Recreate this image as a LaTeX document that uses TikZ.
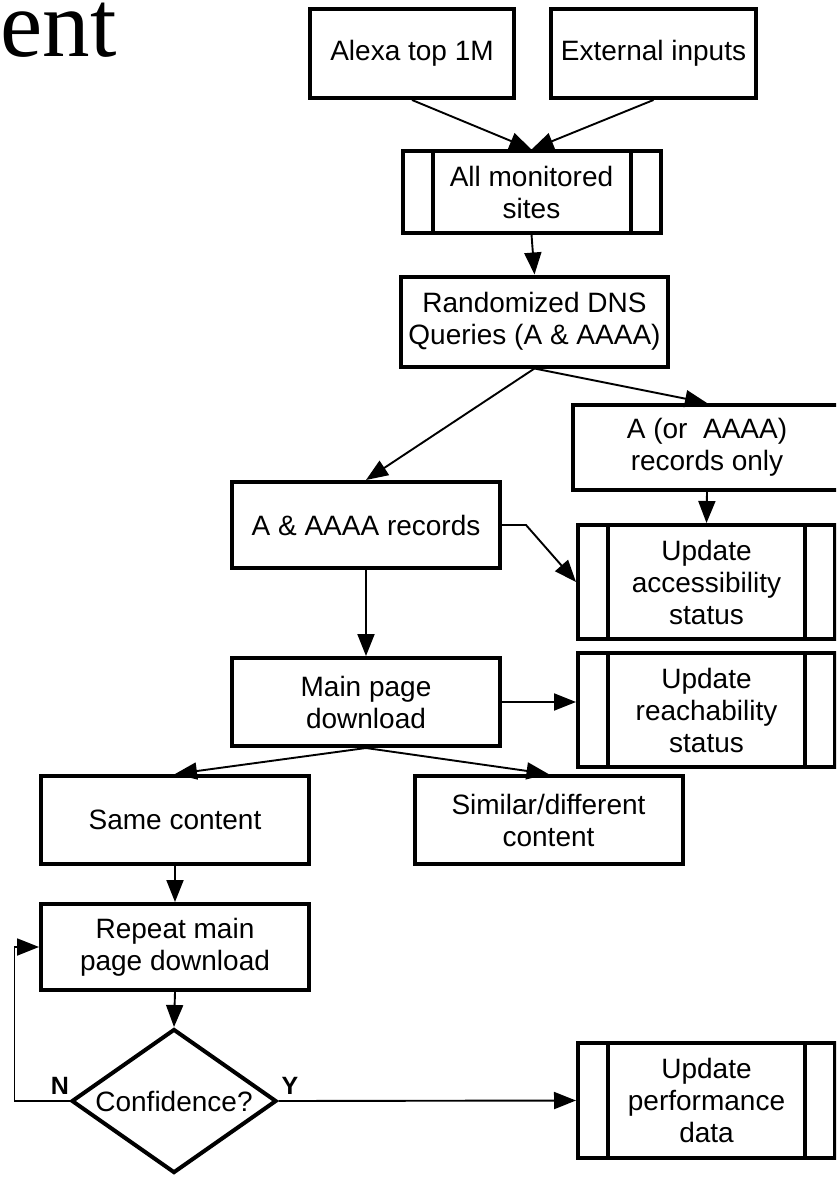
\documentclass[tikz,border=0pt]{standalone}
\usepackage{fontspec}
\setmainfont{Liberation Sans}
\newfontfamily\titlefont{Liberation Serif}
\usetikzlibrary{positioning, arrows.meta, shapes.geometric}
\definecolor{LineColor}{RGB}{0,0,0}
\tikzstyle{arrow} = [line width=1.9pt, LineColor, -{Triangle[length=22pt,width=17pt]}]
\tikzset{
  process/.style={rectangle, draw=LineColor, line width=4pt, fill=white, align=center, inner sep=0pt, font=\fontsize{28}{32}\selectfont},
  subprocess/.style={process, path picture={
      \draw[LineColor, line width=4pt] ([xshift=30pt]path picture bounding box.north west) -- ([xshift=30pt]path picture bounding box.south west);
      \draw[LineColor, line width=4pt] ([xshift=-30pt]path picture bounding box.north east) -- ([xshift=-30pt]path picture bounding box.south east);}},
  decision/.style={diamond, draw=LineColor, line width=4pt, aspect=1.42, minimum width=205pt, minimum height=144pt, inner sep=0pt, font=\fontsize{28}{32}\selectfont},
  flag/.style={inner sep=0pt, font=\bfseries\fontsize{25}{25}\selectfont}
}

\begin{document}
\begin{tikzpicture}[x=1pt, y=-1pt]
  \useasboundingbox (0,0) rectangle (836,1177);
  \clip (0,0) rectangle (836,1177);

  % Title fragment
  \node[anchor=base east, inner sep=0pt, font=\titlefont\fontsize{95}{95}\selectfont] (title) at (117,57) {ent};

  % Inputs
  \node[process, minimum width=204pt, minimum height=89pt] (alexa) at (412,53.5) {Alexa top 1M};
  \node[process, minimum width=205pt, minimum height=89pt] (external) at (653.5,53.5) {External inputs};
  \node[subprocess, minimum width=258pt, minimum height=81pt] (monitored) at (531.5,192) {All monitored\\sites};
  \node[process, minimum width=267pt, minimum height=90pt] (dns) at (534.5,321.5) {Randomized DNS\\Queries (A \& AAAA)};

  % DNS outcome
  \node[process, minimum width=268pt, minimum height=85pt] (aonly) at (707,447.5) {A (or~~AAAA)\\records only};
  \node[process, minimum width=268pt, minimum height=86pt] (both) at (366,525) {A \& AAAA records};
  \node[subprocess, minimum width=257pt, minimum height=114pt] (access) at (706.5,582) {Update\\accessibility\\status};

  % Download
  \node[process, minimum width=268pt, minimum height=88pt] (main) at (366,702) {Main page\\download};
  \node[subprocess, minimum width=257pt, minimum height=114pt] (reach) at (706.5,710) {Update\\reachability\\status};
  \node[process, minimum width=268pt, minimum height=88pt] (same) at (175,820) {Same content};
  \node[process, minimum width=268pt, minimum height=88pt] (similar) at (548.5,820) {Similar/different\\content};

  % Repeat loop
  \node[process, minimum width=268pt, minimum height=86pt] (repeat) at (175,947) {Repeat main\\page download};
  \node[decision] (conf) at (174,1101) {Confidence?};
  \node[subprocess, minimum width=257pt, minimum height=115pt] (perf) at (706.5,1100.5) {Update\\performance\\data};
  \node[flag] (no) at (60,1086) {N};
  \node[flag] (yes) at (290,1086) {Y};

  % Connectors
  \draw[arrow] (alexa.south) -- (monitored.north);
  \draw[arrow] (external.south) -- (monitored.north);
  \draw[arrow] (monitored.south) -- (dns.north);
  \draw[arrow] (dns.south) -- (both.north);
  \draw[arrow] (dns.south) -- (aonly.north);
  \draw[arrow] (aonly.south) -- (access.north);
  \draw[arrow] (both.east) -- ++(24,0) -- (access.west);
  \draw[arrow] (both.south) -- (main.north);
  \draw[arrow] (main.east) -- (main.east -| reach.west);
  \draw[arrow] (main.south) -- (same.north);
  \draw[arrow] (main.south) -- (similar.north);
  \draw[arrow] (same.south) -- (repeat.north);
  \draw[arrow] (repeat.south) -- (conf.north);
  \draw[arrow] (conf.west) -- ++(-55,0) |- (repeat.west);
  \draw[arrow] (conf.east) -- (perf.west);
\end{tikzpicture}
\end{document}
